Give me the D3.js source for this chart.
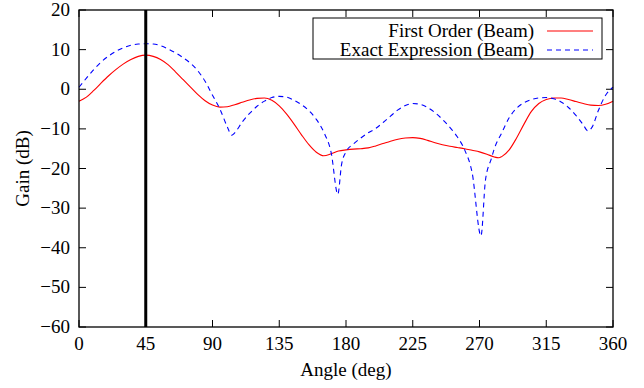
<!DOCTYPE html>
<html>
<head>
<meta charset="utf-8">
<script src="https://cdn.jsdelivr.net/npm/d3@7"></script>
<style>
  body { margin: 0; background: #fff; }
</style>
</head>
<body>
<svg id="chart"></svg>
<script>
// angle (deg) and gain (dB)
const firstOrderAngles = [0,5,10,15,20,25,30,35,40,45,50,55,60,65,70,75,80,85,90,95,100,105,110,115,120,125,130,135,140,145,150,155,160,165,170,175,180,185,190,195,200,205,210,215,220,225,230,235,240,245,250,255,260,265,270,275,280,283,285,290,295,300,305,310,315,320,325,330,335,340,345,350,355,360];
const firstOrderGain = [-3.0,-2.0,-0.3,1.6,3.4,5.0,6.4,7.5,8.3,8.6,8.3,7.5,6.2,4.4,2.5,0.6,-1.3,-2.9,-4.0,-4.5,-4.4,-3.9,-3.3,-2.7,-2.3,-2.2,-2.8,-4.2,-6.3,-8.8,-11.5,-14.0,-15.9,-16.8,-16.3,-15.6,-15.3,-15.1,-15.0,-14.8,-14.3,-13.7,-13.1,-12.6,-12.3,-12.2,-12.4,-12.9,-13.5,-14.0,-14.4,-14.7,-15.0,-15.4,-15.8,-16.4,-17.1,-17.3,-17.0,-15.3,-12.3,-8.8,-5.6,-3.6,-2.6,-2.2,-2.2,-2.6,-3.1,-3.6,-4.0,-4.1,-3.8,-3.0];

const exactAngles = [0,5,10,15,20,25,30,35,40,45,50,55,60,65,70,75,80,85,90,95,100,103,105,110,115,120,125,130,135,140,145,150,155,160,165,170,174.5,177,180,185,190,195,200,205,210,215,220,225,230,235,240,245,250,255,260,265,271,274,278,280,285,290,295,300,305,310,315,320,325,330,335,340,343,346,350,355,360];
const exactGain = [0.5,2.8,5.0,6.9,8.4,9.6,10.5,11.1,11.4,11.5,11.4,11.0,10.2,9.2,8.0,6.6,4.7,2.0,-1.5,-5.0,-9.5,-11.6,-11.0,-8.3,-6.1,-4.3,-3.0,-2.1,-1.8,-2.0,-2.8,-3.9,-5.4,-7.6,-10.8,-16.0,-26.5,-19.0,-15.8,-13.8,-12.3,-11.0,-9.9,-8.4,-6.8,-5.2,-4.1,-3.6,-3.8,-4.6,-5.9,-7.6,-9.6,-12.0,-15.3,-21.0,-37.0,-23.0,-17.5,-15.0,-11.0,-7.2,-4.8,-3.4,-2.6,-2.2,-2.1,-2.4,-3.2,-4.6,-6.6,-9.0,-10.5,-9.5,-5.5,-1.5,0.5];

const xTicks = [0,45,90,135,180,225,270,315,360];
const yTicks = [20,10,0,-10,-20,-30,-40,-50,-60];
const steerAngle = 45;
const seriesNames = ["First Order (Beam)", "Exact Expression (Beam)"];

const width = 644, height = 388;
const margin = { top: 10, right: 31, bottom: 61, left: 79 };
const fontFamily = "'Liberation Serif', 'Times New Roman', Times, serif";
const fontSize = 19;

const svg = d3.select("#chart")
    .attr("width", width).attr("height", height)
    .attr("font-family", fontFamily);

const x = d3.scaleLinear().domain([0, 360]).range([margin.left, width - margin.right]);
const y = d3.scaleLinear().domain([-60, 20]).range([height - margin.bottom, margin.top]);

const tickLen = 7;

// ticks, all inward, mirrored on top and right
const tickG = svg.append("g").attr("stroke", "#000").attr("stroke-width", 1);
xTicks.forEach(t => {
    tickG.append("line").attr("x1", x(t)).attr("x2", x(t))
        .attr("y1", y(-60)).attr("y2", y(-60) - tickLen);
    tickG.append("line").attr("x1", x(t)).attr("x2", x(t))
        .attr("y1", y(20)).attr("y2", y(20) + tickLen);
});
yTicks.forEach(t => {
    tickG.append("line").attr("x1", x(0)).attr("x2", x(0) + tickLen)
        .attr("y1", y(t)).attr("y2", y(t));
    tickG.append("line").attr("x1", x(360)).attr("x2", x(360) - tickLen)
        .attr("y1", y(t)).attr("y2", y(t));
});

svg.append("g").selectAll("text").data(xTicks).join("text")
    .attr("x", d => x(d)).attr("y", y(-60) + 23)
    .attr("text-anchor", "middle").attr("font-size", fontSize)
    .text(d => d);

svg.append("g").selectAll("text").data(yTicks).join("text")
    .attr("x", x(0) - 9).attr("y", d => y(d) + 6)
    .attr("text-anchor", "end").attr("font-size", fontSize)
    .text(d => d < 0 ? "\u2212" + Math.abs(d) : d);

svg.append("text")
    .attr("x", (x(0) + x(360)) / 2).attr("y", 376)
    .attr("text-anchor", "middle").attr("font-size", fontSize)
    .text("Angle (deg)");

svg.append("text")
    .attr("transform", `translate(29, ${(y(20) + y(-60)) / 2}) rotate(-90)`)
    .attr("text-anchor", "middle").attr("font-size", fontSize)
    .text("Gain (dB)");

const line = d3.line()
    .x(d => x(d[0]))
    .y(d => y(d[1]))
    .curve(d3.curveMonotoneX);

const firstOrder = firstOrderAngles.map((a, i) => [a, firstOrderGain[i]]);
const exact = exactAngles.map((a, i) => [a, exactGain[i]]);

svg.append("path").datum(firstOrder)
    .attr("d", line).attr("fill", "none")
    .attr("stroke", "#ff0000").attr("stroke-width", 1.1);

svg.append("path").datum(exact)
    .attr("d", line).attr("fill", "none")
    .attr("stroke", "#0000ff").attr("stroke-width", 1.1)
    .attr("stroke-dasharray", "5,4");

// steering direction marker
svg.append("line")
    .attr("x1", x(steerAngle)).attr("x2", x(steerAngle))
    .attr("y1", y(20)).attr("y2", y(-60))
    .attr("stroke", "#000").attr("stroke-width", 3);

// frame
svg.append("rect")
    .attr("x", x(0)).attr("y", y(20))
    .attr("width", x(360) - x(0)).attr("height", y(-60) - y(20))
    .attr("fill", "none").attr("stroke", "#000").attr("stroke-width", 1.3);

// legend
const legend = svg.append("g").attr("transform", "translate(313, 18)");
legend.append("rect")
    .attr("width", 289).attr("height", 41)
    .attr("fill", "#fff").attr("stroke", "#000").attr("stroke-width", 1);

const legendStyles = [
    { color: "#ff0000", dash: null },
    { color: "#0000ff", dash: "5,4" }
];
seriesNames.forEach((name, i) => {
    const yy = 13 + i * 19;
    legend.append("text")
        .attr("x", 221).attr("y", yy + 6)
        .attr("text-anchor", "end").attr("font-size", fontSize)
        .text(name);
    legend.append("line")
        .attr("x1", 234).attr("x2", 280)
        .attr("y1", yy).attr("y2", yy)
        .attr("stroke", legendStyles[i].color).attr("stroke-width", 1.1)
        .attr("stroke-dasharray", legendStyles[i].dash);
});
</script>
</body>
</html>
